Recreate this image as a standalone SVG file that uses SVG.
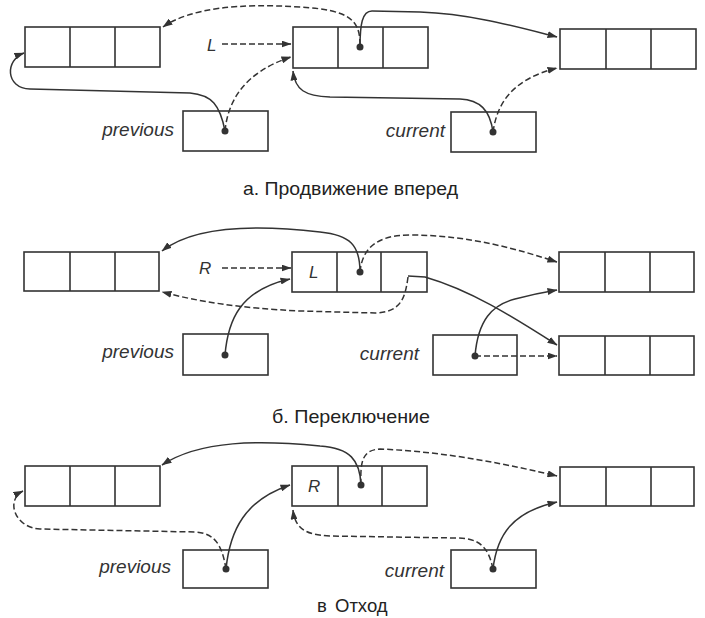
<svg xmlns="http://www.w3.org/2000/svg" width="705" height="618" viewBox="0 0 705 618">
<style>
.box{fill:none;stroke:#333;stroke-width:1.6}
.c{fill:none;stroke:#333;stroke-width:1.5}
.d{fill:none;stroke:#333;stroke-width:1.5;stroke-dasharray:6 3}
.a{marker-end:url(#ah)}
.dot{fill:#333}
.lbl{font-family:"Liberation Sans",Arial,sans-serif;font-style:italic;font-size:19px;fill:#333}
.sm{font-family:"Liberation Sans",Arial,sans-serif;font-style:italic;font-size:17px;fill:#333}
.cap{font-family:"Liberation Sans",Arial,sans-serif;font-size:18.5px;fill:#222}
</style>
<defs>
<marker id="ah" viewBox="0 0 10 7" refX="9.5" refY="3.5" markerWidth="10" markerHeight="7" markerUnits="userSpaceOnUse" orient="auto">
<path d="M0,0 L10,3.5 L0,7 z" fill="#333"/>
</marker>
</defs>

<!-- Panel a -->
<g id="a-left"><rect class="box" x="25" y="27" width="135" height="40"/><path class="box" d="M70,27V67M115,27V67"/></g>
<g id="a-mid"><rect class="box" x="293" y="27" width="135" height="41"/><path class="box" d="M338,27V68M383,27V68"/><circle class="dot" cx="360" cy="47" r="3.5"/></g>
<g id="a-right"><rect class="box" x="560" y="29" width="136" height="40"/><path class="box" d="M606,29V69M651,29V69"/></g>
<g id="a-prev"><rect class="box" x="183" y="111" width="85" height="40"/><circle class="dot" cx="225" cy="131" r="3.5"/><text class="lbl" x="174" y="136" text-anchor="end">previous</text></g>
<g id="a-cur"><rect class="box" x="451" y="112" width="85" height="40"/><circle class="dot" cx="493" cy="132" r="3.5"/><text class="lbl" x="445" y="137" text-anchor="end">current</text></g>
<g id="a-L"><text class="sm" x="207" y="51">L</text></g>
<g id="a-conn">
<path class="d a" d="M360,45 C360,20 350,10 300,7 C240,3 190,8 163,27"/>
<path class="c a" d="M360,47 C360,25 362,11 372,11 L420,12 C470,14 510,25 557,37"/>
<path class="d a" d="M222,44 L291,44"/>
<path class="d a" d="M225,131 C228,100 245,72 291,57"/>
<path class="c a" d="M225,131 C220,105 212,95 190,93 L30,89 C5,88 5,60 24,53"/>
<path class="c a" d="M493,132 C490,110 480,100 460,99 L330,97 C305,96 295,90 293,71"/>
<path class="d a" d="M493,132 C497,105 510,80 557,68"/>
</g>
<text class="cap" x="243" y="195" textLength="215" lengthAdjust="spacingAndGlyphs">а. Продвижение вперед</text>

<!-- Panel b -->
<g id="b-left"><rect class="box" x="24" y="252" width="135" height="39"/><path class="box" d="M70,252V291M115,252V291"/></g>
<g id="b-mid"><rect class="box" x="292" y="252" width="135" height="40"/><path class="box" d="M337,252V292M381,252V292"/><circle class="dot" cx="360" cy="272" r="3.5"/><text class="sm" x="309" y="278">L</text></g>
<g id="b-right-top"><rect class="box" x="559" y="252" width="135" height="40"/><path class="box" d="M605,252V292M650,252V292"/></g>
<g id="b-right-bot"><rect class="box" x="559" y="336" width="135" height="39"/><path class="box" d="M605,336V375M650,336V375"/></g>
<g id="b-prev"><rect class="box" x="183" y="334" width="85" height="41"/><circle class="dot" cx="225" cy="355" r="3.5"/><text class="lbl" x="174" y="358" text-anchor="end">previous</text></g>
<g id="b-cur"><rect class="box" x="433" y="335" width="84" height="40"/><circle class="dot" cx="475" cy="356" r="3.5"/><text class="lbl" x="419" y="360" text-anchor="end">current</text></g>
<g id="b-R"><text class="sm" x="199" y="274">R</text></g>
<g id="b-conn">
<path class="c a" d="M360,272 C360,245 350,235 320,232 C260,225 195,225 162,251"/>
<path class="d a" d="M360,272 C362,250 375,235 410,235 C470,235 520,250 557,262"/>
<path class="d a" d="M222,268 L291,268"/>
<path class="c a" d="M225,355 C228,320 240,290 290,279"/>
<path class="d a" d="M408,277 C405,300 400,312 375,313 L300,311 C240,308 200,302 162,292"/>
<path class="c a" d="M408,276 L425,277 C470,290 510,315 557,345"/>
<path class="c a" d="M475,356 C478,320 492,305 515,299 C530,295 545,292 557,290"/>
<path class="d a" d="M475,356 L557,356"/>
</g>
<text class="cap" x="272" y="423" textLength="158" lengthAdjust="spacingAndGlyphs">б. Переключение</text>

<!-- Panel c -->
<g id="c-left"><rect class="box" x="25" y="466" width="135" height="40"/><path class="box" d="M70,466V506M115,466V506"/></g>
<g id="c-mid"><rect class="box" x="292" y="466" width="135" height="40"/><path class="box" d="M338,466V506M382,466V506"/><circle class="dot" cx="361" cy="485" r="3.5"/><text class="sm" x="308" y="492">R</text></g>
<g id="c-right"><rect class="box" x="560" y="467" width="134" height="39"/><path class="box" d="M606,467V506M651,467V506"/></g>
<g id="c-prev"><rect class="box" x="183" y="550" width="85" height="38"/><circle class="dot" cx="226" cy="569" r="3.5"/><text class="lbl" x="171" y="573" text-anchor="end">previous</text></g>
<g id="c-cur"><rect class="box" x="451" y="550" width="85" height="38"/><circle class="dot" cx="493" cy="569" r="3.5"/><text class="lbl" x="444" y="577" text-anchor="end">current</text></g>
<g id="c-conn">
<path class="c a" d="M361,485 C360,460 350,448 320,446 C260,440 200,440 162,465"/>
<path class="d a" d="M361,485 C360,460 363,450 380,449 C450,452 510,465 557,476"/>
<path class="c a" d="M226,569 C230,530 245,500 290,485"/>
<path class="d a" d="M226,569 C222,545 215,533 195,532 L40,529 C15,528 5,500 23,491"/>
<path class="d a" d="M493,569 C488,545 478,538 455,538 L330,536 C305,535 295,528 293,510"/>
<path class="c a" d="M493,569 C497,535 512,512 557,502"/>
</g>
<text class="cap" x="317" y="612">в <tspan x="335">Отход</tspan></text>
</svg>
